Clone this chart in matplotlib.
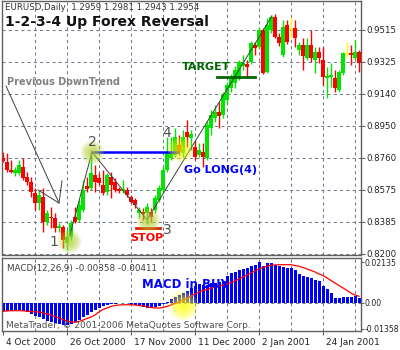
import numpy as np
import matplotlib.pyplot as plt
from matplotlib.transforms import ScaledTranslation

# EURUSD daily bars, 4 Oct 2000 onwards (90 bars)
opens = [
    0.8764, 0.8740, 0.8693, 0.8676, 0.8676, 0.8711, 0.8652, 0.8623, 0.8558, 0.8499,
    0.8535, 0.8388, 0.8417, 0.8412, 0.8353, 0.8359, 0.8265, 0.8300, 0.8417, 0.8400,
    0.8458, 0.8599, 0.8588, 0.8664, 0.8646, 0.8605, 0.8564, 0.8652, 0.8623, 0.8582,
    0.8570, 0.8576, 0.8535, 0.8517, 0.8441, 0.8447, 0.8441, 0.8447, 0.8458, 0.8517,
    0.8576, 0.8693, 0.8764, 0.8781, 0.8840, 0.8793, 0.8916, 0.8881, 0.8828, 0.8781,
    0.8799, 0.8764, 0.8940, 0.8999, 0.9034, 0.9016, 0.9104, 0.9175, 0.9204, 0.9245,
    0.9304, 0.9315, 0.9327, 0.9427, 0.9415, 0.9515, 0.9268, 0.9515, 0.9591, 0.9474,
    0.9368, 0.9544, 0.9515, 0.9527, 0.9398, 0.9427, 0.9351, 0.9427, 0.9339, 0.9386,
    0.9339, 0.9233, 0.9239, 0.9233, 0.9163, 0.9263, 0.9374, 0.9380, 0.9351, 0.9386,
]
highs = [
    0.8799, 0.8793, 0.8752, 0.8711, 0.8752, 0.8764, 0.8682, 0.8652, 0.8588, 0.8576,
    0.8588, 0.8458, 0.8476, 0.8441, 0.8382, 0.8371, 0.8341, 0.8400, 0.8476, 0.8517,
    0.8635, 0.8652, 0.8799, 0.8723, 0.8676, 0.8693, 0.8676, 0.8682, 0.8646, 0.8593,
    0.8635, 0.8593, 0.8547, 0.8529, 0.8476, 0.8470, 0.8499, 0.8470, 0.8547, 0.8605,
    0.8711, 0.8887, 0.8887, 0.8940, 0.8899, 0.8928, 0.8987, 0.8928, 0.8869, 0.8852,
    0.8852, 0.8981, 0.9045, 0.9075, 0.9092, 0.9151, 0.9210, 0.9257, 0.9304, 0.9339,
    0.9368, 0.9339, 0.9450, 0.9445, 0.9533, 0.9527, 0.9585, 0.9603, 0.9609, 0.9497,
    0.9574, 0.9574, 0.9585, 0.9574, 0.9445, 0.9468, 0.9468, 0.9515, 0.9415, 0.9415,
    0.9415, 0.9298, 0.9321, 0.9280, 0.9280, 0.9386, 0.9445, 0.9427, 0.9456, 0.9398,
]
lows = [
    0.8740, 0.8682, 0.8676, 0.8658, 0.8664, 0.8635, 0.8605, 0.8535, 0.8458, 0.8458,
    0.8329, 0.8371, 0.8353, 0.8329, 0.8329, 0.8235, 0.8224, 0.8282, 0.8382, 0.8388,
    0.8447, 0.8564, 0.8576, 0.8564, 0.8605, 0.8547, 0.8547, 0.8529, 0.8564, 0.8558,
    0.8558, 0.8535, 0.8499, 0.8470, 0.8412, 0.8400, 0.8376, 0.8388, 0.8441, 0.8505,
    0.8564, 0.8682, 0.8752, 0.8769, 0.8781, 0.8769, 0.8828, 0.8811, 0.8752, 0.8769,
    0.8711, 0.8752, 0.8899, 0.8975, 0.8940, 0.8999, 0.9081, 0.9151, 0.9175, 0.9222,
    0.9280, 0.9239, 0.9315, 0.9368, 0.9404, 0.9257, 0.9263, 0.9497, 0.9468, 0.9421,
    0.9357, 0.9433, 0.9468, 0.9415, 0.9368, 0.9280, 0.9339, 0.9327, 0.9263, 0.9321,
    0.9192, 0.9116, 0.9180, 0.9151, 0.9151, 0.9251, 0.9357, 0.9310, 0.9339, 0.9268,
]
closes = [
    0.8746, 0.8693, 0.8682, 0.8693, 0.8723, 0.8646, 0.8623, 0.8564, 0.8499, 0.8547,
    0.8388, 0.8441, 0.8412, 0.8353, 0.8365, 0.8282, 0.8300, 0.8382, 0.8388, 0.8488,
    0.8576, 0.8582, 0.8676, 0.8623, 0.8617, 0.8558, 0.8664, 0.8605, 0.8576, 0.8570,
    0.8582, 0.8547, 0.8505, 0.8488, 0.8458, 0.8435, 0.8476, 0.8417, 0.8529, 0.8588,
    0.8693, 0.8793, 0.8799, 0.8887, 0.8799, 0.8887, 0.8887, 0.8905, 0.8769, 0.8811,
    0.8769, 0.8957, 0.9016, 0.9034, 0.9010, 0.9133, 0.9192, 0.9233, 0.9280, 0.9327,
    0.9321, 0.9298, 0.9439, 0.9409, 0.9515, 0.9263, 0.9544, 0.9591, 0.9474, 0.9439,
    0.9533, 0.9445, 0.9515, 0.9468, 0.9427, 0.9362, 0.9427, 0.9351, 0.9386, 0.9351,
    0.9239, 0.9245, 0.9251, 0.9175, 0.9268, 0.9380, 0.9374, 0.9368, 0.9386, 0.9321,
]

# MACD(12,26,9): main (histogram) and signal line
macd_main = [
    -0.00422, -0.00422, -0.00422, -0.00369, -0.00369, -0.00422, -0.00474, -0.00580, -0.00685, -0.00738,
    -0.00843, -0.00949, -0.01001, -0.01054, -0.01107, -0.01159, -0.01159, -0.01107, -0.01001, -0.00896,
    -0.00738, -0.00632, -0.00474, -0.00369, -0.00264, -0.00158, -0.00105, -0.00053, -0.00053, -0.00026,
    -0.00026, -0.00026, -0.00053, -0.00105, -0.00158, -0.00211, -0.00264, -0.00264, -0.00211, -0.00158,
    -0.00079, 0.00053, 0.00211, 0.00316, 0.00422, 0.00527, 0.00632, 0.00791, 0.00896, 0.01001,
    0.00965, 0.00965, 0.01054, 0.01054, 0.01091, 0.01144, 0.01407, 0.01581, 0.01618, 0.01755,
    0.01792, 0.01845, 0.01966, 0.02018, 0.02135, 0.01966, 0.02108, 0.02108, 0.02018, 0.01966,
    0.01897, 0.01845, 0.01845, 0.01723, 0.01544, 0.01407, 0.01370, 0.01318, 0.01228, 0.01144,
    0.00880, 0.00738, 0.00527, 0.00264, 0.00264, 0.00300, 0.00300, 0.00316, 0.00353, 0.00264,
]
macd_signal = [
    -0.00437, -0.00422, -0.00406, -0.00406, -0.00406, -0.00411, -0.00432, -0.00448, -0.00464, -0.00474,
    -0.00516, -0.00580, -0.00632, -0.00711, -0.00791, -0.00870, -0.00949, -0.01001, -0.01017, -0.00975,
    -0.00896, -0.00817, -0.00738, -0.00632, -0.00474, -0.00343, -0.00264, -0.00184, -0.00132, -0.00105,
    -0.00095, -0.00090, -0.00090, -0.00105, -0.00132, -0.00158, -0.00195, -0.00237, -0.00264, -0.00264,
    -0.00237, -0.00184, -0.00105, -0.00026, 0.00053, 0.00158, 0.00237, 0.00369, 0.00474, 0.00580,
    0.00659, 0.00711, 0.00791, 0.00843, 0.00896, 0.00949, 0.01001, 0.01080, 0.01159, 0.01265,
    0.01370, 0.01476, 0.01581, 0.01686, 0.01792, 0.01871, 0.01950, 0.01987, 0.02003, 0.02018,
    0.02018, 0.02018, 0.02018, 0.01976, 0.01934, 0.01871, 0.01792, 0.01713, 0.01634, 0.01528,
    0.01449, 0.01318, 0.01186, 0.01054, 0.00922, 0.00791, 0.00659, 0.00527, 0.00422, 0.00353,
]

price_labels = ["0.8200", "0.8385", "0.8575", "0.8760", "0.8950", "0.9140", "0.9325", "0.9515"]
macd_labels = ["-0.01358", "0.00", "0.02135"]
macd_levels = [-0.01358, 0.0, 0.02135]
date_labels = ["4 Oct 2000", "26 Oct 2000", "17 Nov 2000", "11 Dec 2000", "2 Jan 2001", "24 Jan 2001"]

# pattern points (bar index, price)
downtrend_x = [0.75, 14.0]
downtrend_y = [0.9186, 0.8499]
arrow_x = [8.75, 14.0, 14.75]
arrow_y = [0.8576, 0.8499, 0.8629]
zigzag_x = [16.75, 22.25, 36.0, 67.25]
zigzag_y = [0.8312, 0.8799, 0.8400, 0.9597]

GRID = "#6f7d8c"
SPINE = "#606060"
UP, DOWN, DOJI = "#00e600", "#ff0000", "#ffff00"

n = len(opens)
x = np.arange(n)
o, h, l, c = map(np.array, (opens, highs, lows, closes))
cols = [UP if cc > oo else (DOWN if cc < oo else DOJI) for oo, cc in zip(o, c)]

fig = plt.figure(figsize=(4, 3.5), dpi=100)
ax = fig.add_axes([0.005, 0.2714, 0.8975, 0.7257])
am = fig.add_axes([0.005, 0.0543, 0.8975, 0.2086])

for a in (ax, am):
    a.set_xlim(-0.25, 89.5)
    for s in a.spines.values():
        s.set_color(SPINE)
        s.set_linewidth(1)
    for gx in range(8, 90, 8):
        a.axvline(gx, color=GRID, lw=0.75, ls=(0, (3, 3)), zorder=0)
    a.yaxis.tick_right()
    a.tick_params(axis="y", length=3, width=0.8, color=SPINE, labelsize=6.2,
                  labelcolor="#222222", pad=1)
am.tick_params(axis="y", length=2, labelsize=5.6, pad=0.8)

# ---- price panel ----
ax.set_ylim(0.8194, 0.9685)
levels = np.linspace(0.8200, 0.9515, len(price_labels))
ax.set_yticks(levels)
ax.set_yticklabels(price_labels)
for lv in levels:
    ax.axhline(lv, color=GRID, lw=0.75, ls=(0, (3, 3)), zorder=0)
ax.set_xticks([])

ax.vlines(x, l, h, colors=cols, lw=1, zorder=2)
body = np.maximum(np.abs(c - o), 0.0004)
ax.bar(x, body, bottom=np.minimum(o, c), width=0.78, color=cols, lw=0, zorder=3)

ax.plot(downtrend_x, downtrend_y, color="#404040", lw=0.7, zorder=4)
ax.plot(arrow_x, arrow_y, color="#404040", lw=0.7, zorder=4)
ax.plot(zigzag_x, zigzag_y, color="#404040", lw=0.7, zorder=4)
ax.plot([22.25, 43.75], [0.8799, 0.8799], color="#0000ff", lw=1.8, zorder=4)
ax.plot([33.25, 39.25], [0.8353, 0.8353], color="#dd2200", lw=2, zorder=4)
ax.plot([53.5, 63.0], [0.9239, 0.9239], color="#006400", lw=2, zorder=4)


def glow(a, gx, gy, r_px, color):
    for k in range(10):
        d = 2 * r_px * (1 - k / 11) * 0.72
        a.scatter([gx], [gy], s=d * d, color=color, alpha=0.12, lw=0, zorder=5)


glow(ax, 16.5, 0.8277, 12, "#b4d232")
glow(ax, 22.25, 0.8799, 12, "#b4d232")
glow(ax, 36.25, 0.8400, 12, "#b4d232")
glow(ax, 44.25, 0.8816, 13, "#f0f000")

ax.text(1.0, 0.9210, "Previous DownTrend", color="#808080", fontsize=7,
        fontweight="bold", va="center", zorder=6)
ax.text(44.75, 0.9298, "TARGET", color="#006400", fontsize=8,
        fontweight="bold", va="center", zorder=6)
ax.text(36.0, 0.8294, "STOP", color="#ff0000", fontsize=8,
        fontweight="bold", va="center", ha="center", zorder=6)
ax.text(45.25, 0.8693, "Go LONG(4)", color="#0000ff", fontsize=8,
        fontweight="bold", va="center", zorder=6)
for lab, lx, ly in [("1", 12.75, 0.8271), ("2", 22.25, 0.8858),
                    ("3", 41.0, 0.8341), ("4", 41.0, 0.8910)]:
    ax.text(lx, ly, lab, color="#505050", fontsize=10, ha="center",
            va="center", zorder=6)

# ---- MACD panel ----
am.set_ylim(-0.01476, 0.02372)
am.set_yticks(macd_levels)
am.set_yticklabels(macd_labels)
am.axhline(0, color=GRID, lw=0.75, ls=(0, (3, 3)), zorder=0)
am.bar(x, macd_main, width=0.75, color="#0000ff", lw=0, zorder=2)
am.plot(x, macd_signal, color="#ff0000", lw=0.9, zorder=3)
glow(am, 45.0, -0.001, 15, "#ffff00")
am.text(34.75, 0.0100, "MACD in BUY", color="#0000ff", fontsize=8.5,
        fontweight="bold", va="center", zorder=6)

am.set_xticks(np.arange(len(date_labels)) * 16)
am.set_xticklabels(date_labels, ha="left")
am.tick_params(axis="x", length=3, width=0.8, color=SPINE, labelsize=6.5,
               labelcolor="#222222", pad=2)
shift = ScaledTranslation(0.03, 0, fig.dpi_scale_trans)
for t in am.get_xticklabels():
    t.set_transform(t.get_transform() + shift)

# ---- header texts ----
fig.text(5 / 400, 1 - 8 / 350, "EURUSD,Daily  1.2959 1.2981 1.2943 1.2954",
         fontsize=6.2, color="#333333", va="center")
fig.text(5 / 400, 1 - 22 / 350, "1-2-3-4 Up Forex Reversal", fontsize=10,
         fontweight="bold", color="#111111", va="center")
fig.text(7 / 400, 1 - 268 / 350, "MACD(12,26,9) -0.00358 -0.00411",
         fontsize=6.3, color="#404040", va="center")
fig.text(6 / 400, 1 - 326 / 350, "MetaTrader, \u00a9 2001-2006 MetaQuotes Software Corp.",
         fontsize=6.5, color="#505050", va="center")

fig.savefig("out.png", dpi=100)
